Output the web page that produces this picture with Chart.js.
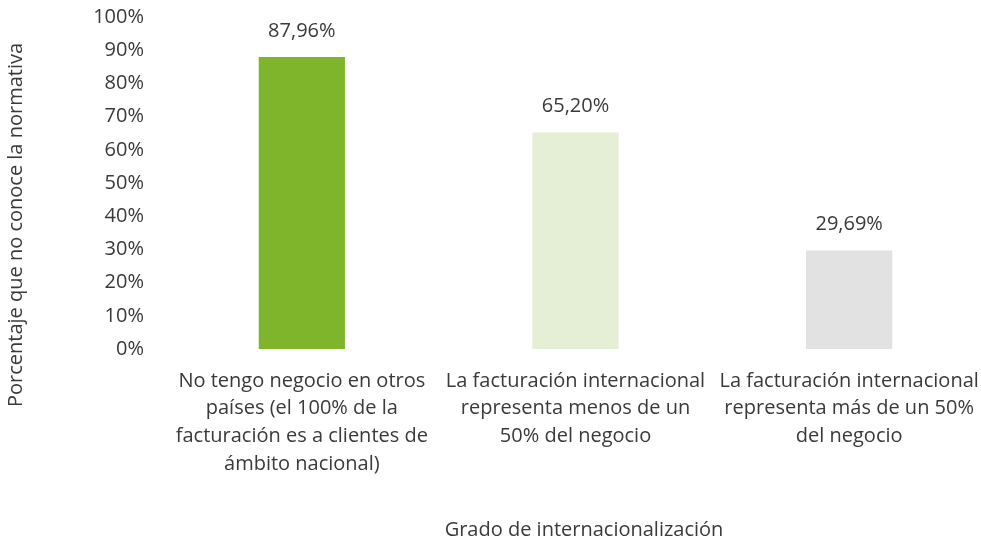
<!DOCTYPE html>
<html>
<head>
<meta charset="utf-8">
<script src="https://cdn.jsdelivr.net/npm/chart.js@4"></script>
<style>
  html, body { margin: 0; padding: 0; background: #fff; overflow: hidden; }
  #wrap { width: 981px; height: 542px; position: relative; overflow: hidden; }
</style>
</head>
<body>
<div id="wrap"><canvas id="chart" width="986" height="542"></canvas></div>
<script>
const categories = [
  ["No tengo negocio en otros", "países (el 100% de la", "facturación es a clientes de", "ámbito nacional)"],
  ["La facturación internacional", "representa menos de un", "50% del negocio"],
  ["La facturación internacional", "representa más de un 50%", "del negocio"]
];
const values = [87.96, 65.20, 29.69];
const barColors = ["#7fb52a", "#e5efd6", "#e2e2e2"];
const yTitle = "Porcentaje que no conoce la normativa";
const xTitle = "Grado de internacionalización";

const textColor = "#3a3a3a";
const fontFamily = "'Open Sans', sans-serif";
const fontSize = 20;

// value labels above bars + axis titles
const extraText = {
  id: "extraText",
  afterDatasetsDraw(chart) {
    const ctx = chart.ctx;
    ctx.save();
    ctx.fillStyle = textColor;
    ctx.font = fontSize + "px " + fontFamily;
    ctx.textAlign = "center";
    ctx.textBaseline = "middle";
    chart.getDatasetMeta(0).data.forEach((bar, i) => {
      const txt = values[i].toFixed(2).replace(".", ",") + "%";
      ctx.fillText(txt, bar.x, bar.y - 26);
    });
    // x title
    ctx.fillText(xTitle, 584, 530);
    // y title
    ctx.translate(16, 225);
    ctx.rotate(-Math.PI / 2);
    ctx.fillText(yTitle, 0, 0);
    ctx.restore();
  }
};

new Chart(document.getElementById("chart"), {
  type: "bar",
  data: {
    labels: categories,
    datasets: [{
      data: values,
      backgroundColor: barColors,
      borderWidth: 0,
      categoryPercentage: 1,
      barPercentage: 0.315
    }]
  },
  options: {
    responsive: false,
    animation: false,
    layout: { padding: { top: 17, left: 0, right: 0, bottom: 0 } },
    plugins: {
      legend: { display: false },
      tooltip: { enabled: false }
    },
    scales: {
      x: {
        grid: { display: false, drawTicks: false },
        border: { display: false },
        ticks: {
          color: textColor,
          font: { family: fontFamily, size: fontSize, lineHeight: 1.385 },
          padding: 18,
          autoSkip: false,
          maxRotation: 0,
          minRotation: 0
        },
        afterFit(scale) {
          scale.height = 193;
          scale.paddingLeft = 0;
          scale.paddingRight = 0;
        }
      },
      y: {
        min: 0,
        max: 100,
        grid: { display: false, drawTicks: false },
        border: { display: false },
        ticks: {
          stepSize: 10,
          color: textColor,
          font: { family: fontFamily, size: fontSize },
          padding: 21,
          callback: (v) => v + "%"
        },
        afterFit(scale) {
          scale.width = 165;
          scale.paddingTop = 0;
          scale.paddingBottom = 0;
        }
      }
    }
  },
  plugins: [extraText]
});
</script>
</body>
</html>
